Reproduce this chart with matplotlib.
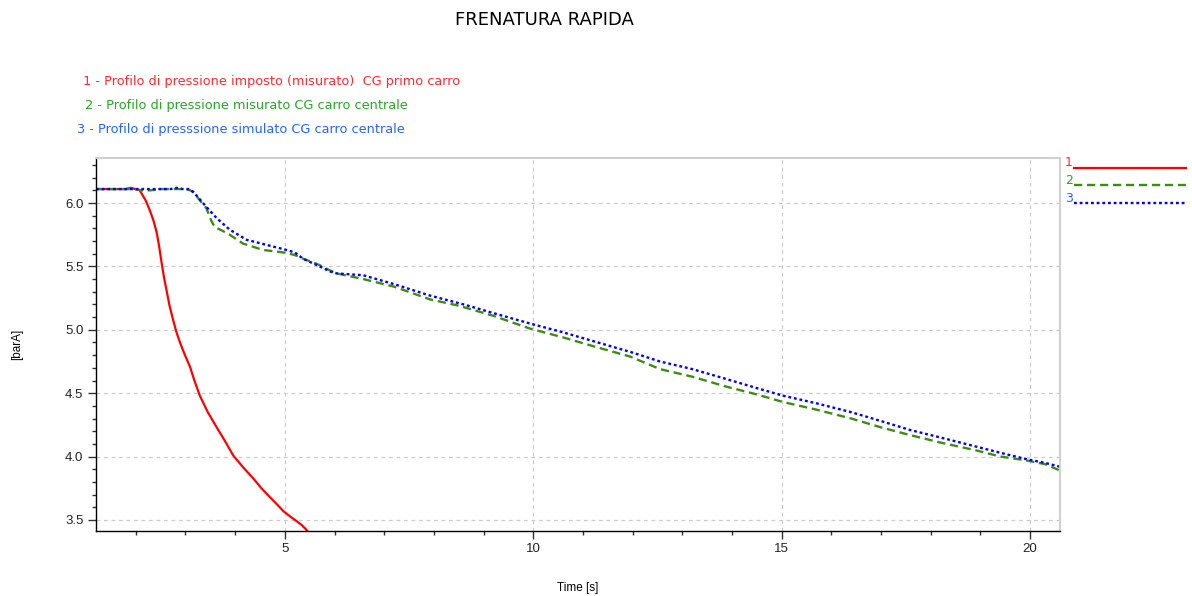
import matplotlib
matplotlib.use("Agg")
import matplotlib.pyplot as plt
from matplotlib.lines import Line2D
from matplotlib.ticker import MultipleLocator, FormatStrFormatter

# Brake pipe pressure profiles during emergency braking
t_red = [1.2, 1.8, 1.9, 2.08, 2.2, 2.28, 2.35, 2.42, 2.47, 2.52, 2.57, 2.62, 2.68,
         2.75, 2.82, 2.89, 2.98, 3.09, 3.18, 3.29, 3.45, 3.63, 3.8, 3.96, 4.15,
         4.36, 4.53, 4.70, 4.85, 4.97, 5.1, 5.24, 5.34, 5.44, 5.6]
p_red = [6.11, 6.11, 6.12, 6.10, 6.02, 5.945, 5.87, 5.77, 5.66, 5.53, 5.41, 5.31,
         5.19, 5.08, 4.98, 4.90, 4.81, 4.71, 4.60, 4.48, 4.35, 4.23, 4.12, 4.01,
         3.92, 3.83, 3.75, 3.68, 3.62, 3.57, 3.53, 3.49, 3.46, 3.42, 3.34]

t_green = [1.2, 2.0, 2.1, 2.3, 2.5, 3.02, 3.16, 3.29, 3.42, 3.52, 3.59, 3.75, 3.89,
           4.16, 4.56, 4.97, 5.2, 5.37, 5.55, 5.70, 5.9, 6.04, 6.58, 7.2, 7.92,
           8.5, 9.2, 9.93, 10.6, 11.3, 11.94, 12.55, 13.2, 13.9, 14.5, 15.03,
           15.7, 16.4, 17.0, 17.58, 18.2, 18.9, 19.4, 19.92, 20.3, 20.6]
p_green = [6.11, 6.11, 6.10, 6.10, 6.11, 6.11, 6.09, 6.02, 5.96, 5.86, 5.81, 5.78,
           5.75, 5.68, 5.63, 5.61, 5.59, 5.56, 5.535, 5.51, 5.47, 5.445, 5.40,
           5.34, 5.24, 5.19, 5.11, 5.01, 4.94, 4.86, 4.79, 4.69, 4.63, 4.55, 4.49,
           4.43, 4.37, 4.30, 4.23, 4.17, 4.11, 4.05, 4.00, 3.97, 3.94, 3.89]

t_blue = [1.2, 2.7, 2.82, 2.95, 3.09, 3.22, 3.42, 3.63, 3.89, 4.23, 4.63, 5.03, 5.2,
          5.37, 5.70, 5.91, 6.04, 6.58, 7.2, 7.92, 8.6, 9.3, 9.93, 10.6, 11.3,
          12.0, 12.55, 13.2, 13.9, 14.5, 15.03, 15.7, 16.4, 17.0, 17.58, 18.2,
          18.9, 19.4, 19.92, 20.3, 20.6]
p_blue = [6.11, 6.11, 6.12, 6.11, 6.11, 6.06, 5.97, 5.88, 5.79, 5.71, 5.67, 5.63,
          5.61, 5.56, 5.50, 5.46, 5.445, 5.43, 5.36, 5.27, 5.20, 5.12, 5.05, 4.98,
          4.90, 4.82, 4.75, 4.69, 4.61, 4.54, 4.48, 4.42, 4.35, 4.28, 4.21, 4.15,
          4.08, 4.03, 3.98, 3.95, 3.92]

legend_labels = [
    "1 - Profilo di pressione imposto (misurato)  CG primo carro",
    "2 - Profilo di pressione misurato CG carro centrale",
    "3 - Profilo di presssione simulato CG carro centrale",
]
text_colors = ["#ff2a2a", "#22aa22", "#2266ff"]
line_colors = ["#ff0000", "#3d8c14", "#0000ff"]

NARROW = ["Liberation Sans", "DejaVu Sans"]

W, H = 1192, 596
fig = plt.figure(figsize=(W / 100, H / 100), dpi=100)
fig.patch.set_facecolor("white")

ax = fig.add_axes([96 / W, 1 - 531 / H, (1060 - 96) / W, (531 - 158) / H])

ax.plot(t_red, p_red, color=line_colors[0], lw=1.6, solid_capstyle="butt")
ax.plot(t_green, p_green, color=line_colors[1], lw=1.7, dashes=(3.5, 2))
ax.plot(t_blue, p_blue, color=line_colors[2], lw=1.7, dashes=(1.2, 1.2))

ax.set_xlim(1.2, 20.6)
ax.set_ylim(3.413, 6.355)

ax.xaxis.set_major_locator(MultipleLocator(5))
ax.xaxis.set_minor_locator(MultipleLocator(1))
ax.yaxis.set_major_locator(MultipleLocator(0.5))
ax.yaxis.set_minor_locator(MultipleLocator(0.1))
ax.yaxis.set_major_formatter(FormatStrFormatter("%.1f"))

ax.grid(True, which="major", color="#cccccc", linestyle=(0, (3, 3)), lw=0.9)
ax.set_axisbelow(True)

for side in ("top", "right"):
    ax.spines[side].set_color("#d0d0d0")
    ax.spines[side].set_linewidth(1.5)
for side in ("left", "bottom"):
    ax.spines[side].set_color("black")
    ax.spines[side].set_linewidth(1.0)

ax.tick_params(which="major", direction="out", length=6, width=1, color="#333333",
               labelsize=9.5, pad=3, labelcolor="#222222")
ax.tick_params(which="minor", direction="out", length=3, width=1, color="#333333")
for lab in ax.get_xticklabels() + ax.get_yticklabels():
    lab.set_family(NARROW)

ax.set_xlabel("Time [s]", fontsize=8.5, labelpad=19, family=NARROW)
ax.set_ylabel("[barA]", fontsize=8.5, labelpad=30, family=NARROW)

fig.text(544 / W, 1 - 20 / H, "FRENATURA RAPIDA", ha="center", va="center",
         fontsize=13, color="black")

ys = [81, 105, 130]
xs = [83, 85, 77]
for lbl, c, x, y in zip(legend_labels, text_colors, xs, ys):
    fig.text(x / W, 1 - y / H, lbl, ha="left", va="center", fontsize=9.3, color=c)

# Series key at the right of the plot area
key_styles = [dict(lw=1.6), dict(lw=1.7, dashes=(3.5, 2)), dict(lw=1.7, dashes=(1.2, 1.2))]
key_y = [168, 185, 203]
for i, (c, tc, y, st) in enumerate(zip(line_colors, text_colors, key_y, key_styles)):
    fig.text(1065 / W, 1 - (y - 5) / H, str(i + 1), ha="left", va="center",
             fontsize=9, color=tc)
    fig.add_artist(Line2D([1074 / W, 1186 / W], [1 - y / H, 1 - y / H], color=c,
                          transform=fig.transFigure, **st))

fig.savefig("out.png", dpi=100)
